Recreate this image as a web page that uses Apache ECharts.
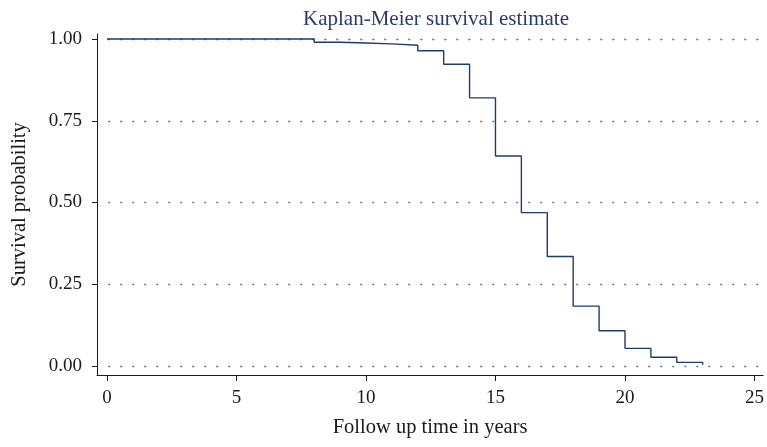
<!DOCTYPE html>
<html>
<head>
<meta charset="utf-8">
<script src="https://cdn.jsdelivr.net/npm/echarts@6/dist/echarts.min.js"></script>
<style>
  html, body { margin: 0; padding: 0; background: #fff; }
  #chart { width: 767px; height: 447px; }
</style>
</head>
<body>
<div id="chart"></div>
<script>
// Kaplan-Meier step estimate: event times (years) and survival after each drop
const eventYears = [0, 8, 9, 10, 11, 12, 13, 14, 15, 16, 17, 18, 19, 20, 21, 22, 23];
const survival = [1.000, 0.990, 0.988, 0.985, 0.981, 0.964, 0.923, 0.820, 0.642, 0.469, 0.335, 0.183, 0.108, 0.054, 0.027, 0.011, 0.004];
const xTicks = [0, 5, 10, 15, 20, 25];
const yTicks = [0, 0.25, 0.5, 0.75, 1];

// axis ranges leave a little room before 0 and around the 0..1 band
const xRange = [-0.384, 25.334];
const yRange = [-0.0275, 1.0153];

const FONT = '"Liberation Serif", "DejaVu Serif", serif';
const INK = '#1a1a1a';
const LINE = '#1f3b6e';

const chart = echarts.init(document.getElementById('chart'), null, { renderer: 'canvas' });

chart.setOption({
  animation: false,
  backgroundColor: '#ffffff',
  title: {
    text: 'Kaplan-Meier survival estimate',
    left: 431,
    textAlign: 'center',
    top: 4,
    textStyle: { fontFamily: FONT, fontSize: 21, fontWeight: 'normal', color: '#2a3b6e' }
  },
  grid: { left: 97, right: 0, top: 34, bottom: 72 },
  xAxis: {
    type: 'value', min: xRange[0], max: xRange[1],
    axisLine: { show: true, onZero: false, lineStyle: { color: INK, width: 1 } },
    axisTick: { show: true, length: 6, customValues: xTicks, lineStyle: { color: INK } },
    axisLabel: {
      margin: 14, color: INK, fontFamily: FONT, fontSize: 19,
      customValues: xTicks
    },
    splitLine: { show: false },
    name: 'Follow up time in years',
    nameLocation: 'middle', nameGap: 42,
    nameTextStyle: { fontFamily: FONT, fontSize: 20.5, color: INK }
  },
  yAxis: {
    type: 'value', min: yRange[0], max: yRange[1],
    axisLine: { show: true, onZero: false, lineStyle: { color: INK, width: 1 } },
    axisTick: { show: true, length: 5, customValues: yTicks, lineStyle: { color: INK } },
    axisLabel: {
      margin: 15, color: INK, fontFamily: FONT, fontSize: 19,
      customValues: yTicks,
      formatter: v => v.toFixed(2)
    },
    splitLine: { show: false },
    name: 'Survival probability',
    nameLocation: 'middle', nameGap: 67,
    nameTextStyle: { fontFamily: FONT, fontSize: 20.5, color: INK }
  },
  series: [
    {
      // dotted reference lines at each labelled probability
      type: 'line',
      data: [],
      silent: true,
      z: 1,
      markLine: {
        silent: true,
        symbol: 'none',
        label: { show: false },
        lineStyle: { color: '#6e6e6e', width: 1.3, type: [2, 10] },
        data: yTicks.map(v => [
          { coord: [0.05, v] },
          { coord: [xRange[1], v] }
        ])
      }
    },
    {
      type: 'line',
      step: 'end',
      data: eventYears.map((t, i) => [t, survival[i]]),
      showSymbol: false,
      lineStyle: { color: LINE, width: 1.4 },
      z: 5
    }
  ]
});
</script>
</body>
</html>
